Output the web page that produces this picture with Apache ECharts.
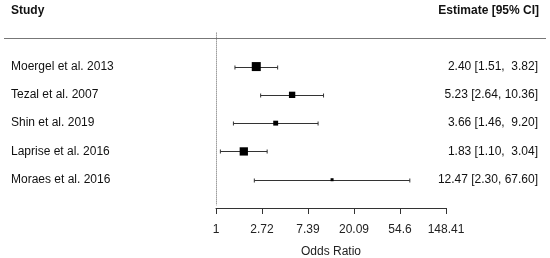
<!DOCTYPE html>
<html>
<head>
<meta charset="utf-8">
<script src="https://cdn.jsdelivr.net/npm/echarts@6/dist/echarts.min.js"></script>
<style>
  html, body { margin: 0; padding: 0; background: #fff; }
  #chart { width: 550px; height: 258px; }
</style>
</head>
<body>
<div id="chart"></div>
<script>
const studies = ['Moergel et al. 2013', 'Tezal et al. 2007', 'Shin et al. 2019', 'Laprise et al. 2016', 'Moraes et al. 2016'];
const estimates = [2.40, 5.23, 3.66, 1.83, 12.47];
const ciLower = [1.51, 2.64, 1.46, 1.10, 2.30];
const ciUpper = [3.82, 10.36, 9.20, 3.04, 67.60];
const tickLabels = ['1', '2.72', '7.39', '20.09', '54.6', '148.41'];

const FONT = '"Liberation Sans", Arial, sans-serif';

// box size like metafor: scaled by 1/SE, between 0.5x and 1.5x
const invSe = estimates.map((_, i) => 3.92 / (Math.log(ciUpper[i]) - Math.log(ciLower[i])));
const wMin = Math.min(...invSe), wMax = Math.max(...invSe);
const boxSizes = invSe.map(w => 6 * (0.5 + (w - wMin) / (wMax - wMin)));

const estLabels = estimates.map((e, i) =>
  `${e.toFixed(2)} [${ciLower[i].toFixed(2)}, ${ciUpper[i].toFixed(2).padStart(5, ' ')}]`
);

const chart = echarts.init(document.getElementById('chart'));

const yCommon = {
  type: 'value',
  inverse: true,
  min: -1,
  max: 6,
  interval: 1,
  axisLine: { show: false },
  axisTick: { show: false },
  splitLine: { show: false }
};

chart.setOption({
  animation: false,
  textStyle: { fontFamily: FONT },
  title: [
    {
      text: 'Study', left: 11, top: 5, padding: 0,
      textStyle: { fontSize: 12, fontWeight: 'bold', color: '#111', fontFamily: FONT }
    },
    {
      text: 'Estimate [95% CI]', right: 11, top: 5, padding: 0,
      textStyle: { fontSize: 12, fontWeight: 'bold', color: '#111', fontFamily: FONT }
    }
  ],
  graphic: [{
    type: 'line',
    shape: { x1: 4, y1: 38.5, x2: 546, y2: 38.5 },
    style: { stroke: '#777', lineWidth: 1.2 }
  }],
  grid: { left: 216, right: 104, top: 10, bottom: 50, outerBoundsMode: 'none' },
  xAxis: {
    type: 'value',
    min: 0,
    max: 5,
    interval: 1,
    name: 'Odds Ratio',
    nameLocation: 'middle',
    nameGap: 38,
    nameTextStyle: { fontSize: 12, color: '#222', fontFamily: FONT },
    axisLine: { onZero: false, lineStyle: { color: '#333', width: 1 } },
    axisTick: { length: 6, lineStyle: { color: '#333' } },
    axisLabel: {
      margin: 16, fontSize: 12, color: '#222', fontFamily: FONT,
      formatter: v => tickLabels[Math.round(v)]
    },
    splitLine: { show: false }
  },
  yAxis: [
    Object.assign({}, yCommon, {
      position: 'left',
      axisLabel: {
        align: 'left', margin: 205, fontSize: 12, color: '#111', fontFamily: FONT,
        formatter: v => studies[v - 1] || ''
      }
    }),
    Object.assign({}, yCommon, {
      position: 'right',
      axisLabel: {
        align: 'right', margin: 92, fontSize: 12, color: '#111', fontFamily: FONT,
        formatter: v => estLabels[v - 1] || ''
      }
    })
  ],
  series: [
    {
      type: 'custom',
      silent: true,
      data: studies.map((s, i) => [Math.log(ciLower[i]), Math.log(ciUpper[i]), i + 1]),
      encode: { x: [0, 1], y: 2 },
      renderItem: function (params, api) {
        const p1 = api.coord([api.value(0), api.value(2)]);
        const p2 = api.coord([api.value(1), api.value(2)]);
        const y = Math.round(p1[1]) + 0.5;
        const st = { stroke: '#333', lineWidth: 1 };
        return {
          type: 'group',
          children: [
            { type: 'line', shape: { x1: p1[0], y1: y, x2: p2[0], y2: y }, style: st },
            { type: 'line', shape: { x1: p1[0], y1: y - 2, x2: p1[0], y2: y + 2 }, style: st },
            { type: 'line', shape: { x1: p2[0], y1: y - 2, x2: p2[0], y2: y + 2 }, style: st }
          ]
        };
      }
    },
    {
      type: 'scatter',
      silent: true,
      z: 5,
      symbol: 'rect',
      symbolSize: (val, params) => boxSizes[params.dataIndex],
      itemStyle: { color: '#000', opacity: 1 },
      data: estimates.map((e, i) => [Math.log(e), i + 1]),
      markLine: {
        silent: true,
        symbol: 'none',
        label: { show: false },
        lineStyle: { type: 'dotted', color: '#666', width: 1 },
        data: [[{ coord: [0, -0.2] }, { coord: [0, 5.9] }]]
      }
    }
  ]
});
</script>
</body>
</html>
